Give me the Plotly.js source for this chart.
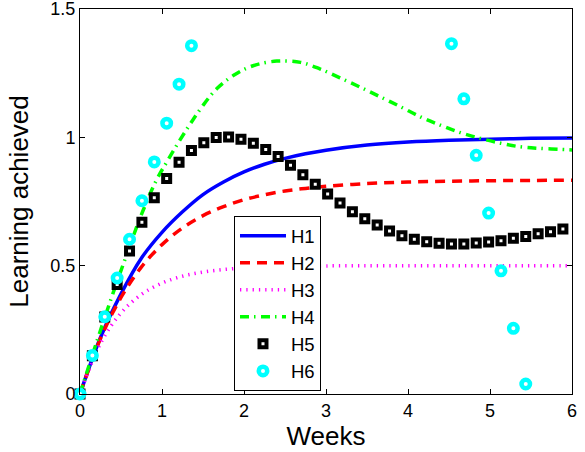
<!DOCTYPE html>
<html>
<head>
<meta charset="utf-8">
<script src="https://cdn.plot.ly/plotly-3.0.1.min.js"></script>
<style>html,body{margin:0;padding:0;background:#fff;}#chart{width:585px;height:452px;}</style>
</head>
<body>
<div id="chart"></div>
<script>
// Curve sample points (weeks)
const weeksCurve = [0, 0.25, 0.5, 0.75, 1, 1.25, 1.5, 1.75, 2, 2.25, 2.5, 2.75, 3, 3.5, 4, 4.5, 5, 5.5, 6];
const h1 = [0, 0.22, 0.39, 0.53, 0.63, 0.71, 0.777, 0.826, 0.865, 0.895, 0.918, 0.936, 0.95, 0.97, 0.982, 0.989, 0.993, 0.996, 0.997];
const h2 = [0, 0.216, 0.376, 0.495, 0.582, 0.647, 0.695, 0.730, 0.757, 0.776, 0.791, 0.801, 0.809, 0.820, 0.826, 0.829, 0.831, 0.832, 0.833];
const h3 = [0, 0.197, 0.316, 0.388, 0.432, 0.459, 0.475, 0.485, 0.491, 0.494, 0.497, 0.498, 0.499, 0.5, 0.5, 0.5, 0.5, 0.5, 0.5];

const weeksH4 = [0, 0.2, 0.4, 0.6, 0.75, 0.935, 1.07, 1.21, 1.35, 1.49, 1.67, 1.89, 2.12, 2.4, 2.69, 2.93, 3.17, 3.42, 3.66, 3.91, 4.15, 4.39, 4.64, 4.88, 5.13, 5.37, 5.61, 5.94, 6];
const h4 = [0, 0.2, 0.39, 0.57, 0.70, 0.835, 0.91, 0.985, 1.055, 1.12, 1.19, 1.245, 1.28, 1.297, 1.292, 1.266, 1.232, 1.195, 1.158, 1.119, 1.080, 1.048, 1.018, 0.996, 0.977, 0.963, 0.957, 0.952, 0.951];

// Marker series
const weeksH5 = [0, 0.151, 0.302, 0.453, 0.604, 0.755, 0.906, 1.057, 1.208, 1.359, 1.51, 1.661, 1.812, 1.963, 2.114, 2.265, 2.416, 2.567, 2.718, 2.869, 3.02, 3.171, 3.322, 3.473, 3.624, 3.775, 3.926, 4.077, 4.228, 4.379, 4.53, 4.681, 4.832, 4.983, 5.134, 5.285, 5.436, 5.587, 5.738, 5.889];
const h5 = [0, 0.149, 0.30, 0.427, 0.557, 0.669, 0.765, 0.840, 0.903, 0.949, 0.979, 0.999, 1.001, 0.993, 0.977, 0.953, 0.925, 0.891, 0.854, 0.817, 0.779, 0.744, 0.710, 0.683, 0.658, 0.635, 0.617, 0.603, 0.593, 0.587, 0.584, 0.584, 0.588, 0.592, 0.597, 0.607, 0.614, 0.624, 0.632, 0.643];

const weeksH6 = [0, 0.151, 0.302, 0.453, 0.604, 0.755, 0.906, 1.057, 1.208, 1.359, 4.53, 4.681, 4.832, 4.983, 5.134, 5.285, 5.436];
const h6 = [0, 0.150, 0.301, 0.452, 0.603, 0.753, 0.904, 1.055, 1.207, 1.357, 1.365, 1.150, 0.930, 0.705, 0.480, 0.256, 0.039];

const xTicks = [0, 1, 2, 3, 4, 5, 6];
const yTicks = [0, 0.5, 1, 1.5];
const yTickText = ['0', '0.5', '1', '1.5'];

const FONT = '"Liberation Sans", Arial, Helvetica, sans-serif';

const traces = [
  {x: weeksCurve, y: h1, name: 'H1', mode: 'lines', line: {color: '#0000ff', width: 3.5, shape: 'spline'}},
  {x: weeksCurve, y: h2, name: 'H2', mode: 'lines', line: {color: '#ff0000', width: 3.5, dash: '10px,7px', shape: 'spline'}},
  {x: weeksCurve, y: h3, name: 'H3', mode: 'lines', line: {color: '#ff00ff', width: 3.5, dash: '1.3px,5px', shape: 'spline'}},
  {x: weeksH4, y: h4, name: 'H4', mode: 'lines', line: {color: '#00ff00', width: 3.5, dash: '9px,5px,1.5px,5.5px', shape: 'spline'}},
  {x: weeksH5, y: h5, name: 'H5', mode: 'markers', cliponaxis: false,
   marker: {symbol: 'square', size: 7, color: '#ffffff', line: {color: '#000000', width: 4}}},
  {x: weeksH6, y: h6, name: 'H6', mode: 'markers', cliponaxis: false,
   marker: {symbol: 'circle', size: 8.5, color: '#ffffff', line: {color: '#00ffff', width: 4.5}}}
];

const layout = {
  width: 585, height: 452,
  margin: {l: 80, r: 13, t: 9, b: 58},
  paper_bgcolor: '#ffffff', plot_bgcolor: '#ffffff',
  font: {family: FONT, size: 18, color: '#000000'},
  showlegend: true,
  legend: {
    x: 0.313, y: 0.462, xanchor: 'left', yanchor: 'top',
    itemwidth: 46,
    bgcolor: '#ffffff', bordercolor: '#000000', borderwidth: 1,
    font: {family: FONT, size: 18.5, color: '#000000'}
  },
  xaxis: {
    range: [0, 6], tickvals: xTicks, ticks: 'inside', ticklen: 5, tickcolor: '#000000',
    showline: true, linecolor: '#000000', linewidth: 1, mirror: 'ticks',
    showgrid: false, zeroline: false, ticklabeloverflow: 'allow',
    tickfont: {family: FONT, size: 18, color: '#000000'},
    title: {text: 'Weeks', font: {family: FONT, size: 26, color: '#000000'}, standoff: 4}
  },
  yaxis: {
    range: [0, 1.5], tickvals: yTicks, ticktext: yTickText, ticks: 'inside', ticklen: 5, tickcolor: '#000000',
    showline: true, linecolor: '#000000', linewidth: 1, mirror: 'ticks',
    showgrid: false, zeroline: false, ticklabeloverflow: 'allow',
    tickfont: {family: FONT, size: 18, color: '#000000'},
    title: {text: 'Learning achieved', font: {family: FONT, size: 26, color: '#000000'}, standoff: 14}
  }
};

Plotly.newPlot('chart', traces, layout, {displayModeBar: false, staticPlot: true});
</script>
</body>
</html>
